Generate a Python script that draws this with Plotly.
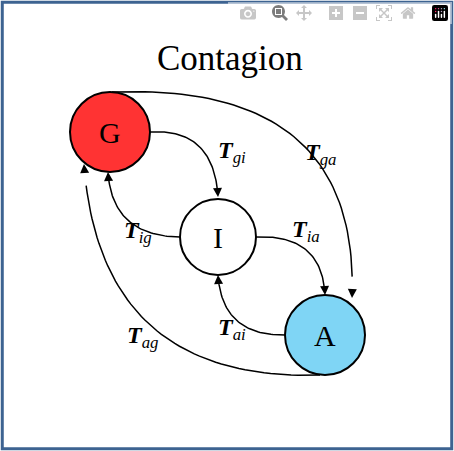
import numpy as np
import plotly.graph_objects as go

W, H = 454, 451

node_names = ["G", "I", "A"]
node_x = [110, 218, 325]
node_y = [132, 237, 335]
node_r = [40, 38, 40]
node_fill = ["#ff3333", "#ffffff", "#7fd5f5"]

# edges: start, control, end (pixel coords)
edge_start = [(150, 132), (180, 237), (256, 237), (285, 335), (112, 92), (320, 375)]
edge_ctrl = [(214, 128), (112, 236), (322, 234), (222, 336), (360, 82), (100, 382)]
edge_end = [(218, 197), (108, 172), (325, 295), (218, 275), (352, 298), (84, 164)]
edge_label = ["gi", "ig", "ia", "ai", "ga", "ag"]
label_x = [232, 138, 306, 232, 320, 142]
label_y = [152, 232, 231, 329, 154, 337]

fig = go.Figure()
t = np.linspace(0, 1, 60)
ann = []
for (s, c, e) in zip(edge_start, edge_ctrl, edge_end):
    s, c, e = np.array(s), np.array(c), np.array(e)
    pts = ((1 - t) ** 2)[:, None] * s + (2 * (1 - t) * t)[:, None] * c + (t ** 2)[:, None] * e
    fig.add_trace(go.Scatter(x=pts[:-3, 0], y=pts[:-3, 1], mode="lines",
                             line=dict(color="black", width=1.5), hoverinfo="skip"))
    d = e - c
    d = d / np.linalg.norm(d)
    ann.append(dict(x=e[0], y=e[1], ax=e[0] - 8 * d[0], ay=e[1] - 8 * d[1],
                    xref="x", yref="y", axref="x", ayref="y", text="",
                    showarrow=True, arrowhead=2, arrowsize=1.2, arrowwidth=1.5,
                    arrowcolor="black"))

shapes = []
for n, x, y, r, f in zip(node_names, node_x, node_y, node_r, node_fill):
    shapes.append(dict(type="circle", xref="x", yref="y", x0=x - r, x1=x + r,
                       y0=y - r, y1=y + r, fillcolor=f, line=dict(color="black", width=2)))
    ann.append(dict(x=x, y=y, text=n, showarrow=False, xref="x", yref="y",
                    font=dict(family="Liberation Serif", size=30, color="black")))

for lab, x, y in zip(edge_label, label_x, label_y):
    ann.append(dict(x=x, y=y, text=f"<b><i>T</i></b><sub><i>{lab}</i></sub>",
                    showarrow=False, xref="x", yref="y",
                    font=dict(family="Liberation Serif", size=24, color="black")))

ann.append(dict(x=230, y=58, text="Contagion", showarrow=False, xref="x", yref="y",
                font=dict(family="Liberation Serif", size=35, color="black")))

shapes.append(dict(type="rect", xref="paper", yref="paper", x0=0.005, x1=0.995,
                   y0=0.005, y1=0.995, line=dict(color="#3d6391", width=3)))

fig.update_layout(
    width=W, height=H, margin=dict(l=0, r=0, t=0, b=0),
    paper_bgcolor="white", plot_bgcolor="white", showlegend=False,
    xaxis=dict(range=[0, W], visible=False),
    yaxis=dict(range=[H, 0], visible=False),
    shapes=shapes, annotations=ann,
)
fig.write_html("out.html", post_script="document.body.style.margin='0';")
